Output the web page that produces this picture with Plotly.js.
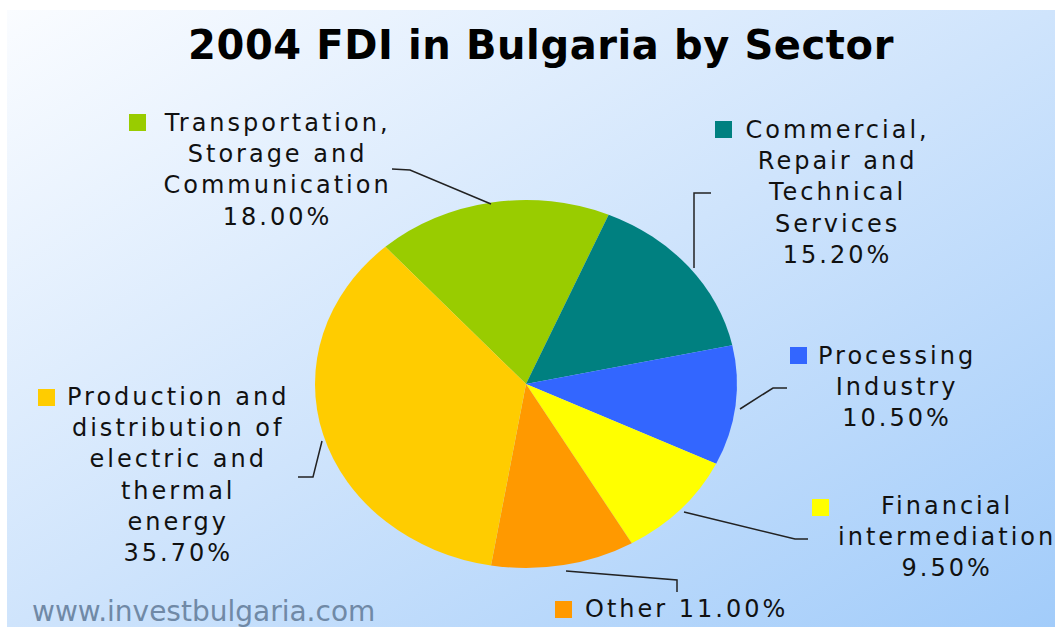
<!DOCTYPE html>
<html>
<head>
<meta charset="utf-8">
<script src="https://cdn.plot.ly/plotly-3.0.1.min.js"></script>
<style>
  html, body { margin: 0; padding: 0; background: #ffffff; }
  #wrap { position: relative; width: 1055px; height: 638px; overflow: hidden; background: #ffffff; }
  #bg { position: absolute; left: 7px; top: 10px; width: 1048px; height: 617px;
        background: linear-gradient(to bottom right, #fafcff 0%, #cfe4fc 50%, #a2ccfa 100%); }
  #chart { position: absolute; left: 0; top: 0; width: 1055px; height: 638px; }
  .gtitle { letter-spacing: 0.6px; }
</style>
</head>
<body>
<div id="wrap"><div id="bg"></div><div id="chart"></div></div>
<script>
// ---- data ----
var sectors = [
  'Transportation, Storage and Communication',
  'Commercial, Repair and Technical Services',
  'Processing Industry',
  'Financial intermediation',
  'Other',
  'Production and distribution of electric and thermal energy'
];
var shares = [18.00, 15.20, 10.50, 9.50, 11.00, 35.70];
var sliceColors = ['#99CC00', '#008080', '#3366FF', '#FFFF00', '#FF9900', '#FFCC00'];
var labelLines = [
  ['Transportation,', 'Storage and', 'Communication'],
  ['Commercial,', 'Repair and', 'Technical', 'Services'],
  ['Processing', 'Industry'],
  ['Financial', 'intermediation'],
  ['Other'],
  ['Production and', 'distribution of', 'electric and', 'thermal', 'energy']
];
var chartTitle = '2004 FDI in Bulgaria by Sector';
var watermark = 'www.investbulgaria.com';

// ---- layout helpers (pixel -> paper) ----
var W = 1055, H = 638;
function px(x) { return x / W; }
function py(y) { return 1 - y / H; }

// label placement (styles/positions only)
var labelPos = [
  {cx: 277, cy: 170},
  {cx: 837, cy: 193},
  {cx: 897, cy: 387},
  {cx: 947, cy: 537},
  {cx: 686, cy: 609, inline: true},
  {cx: 178, cy: 475}
];
var squarePos = [
  [129, 114], [715, 121], [790, 347], [812, 499], [555, 601], [38, 389]
];
var leaders = [
  [[392,169],[410,170],[491,204]],
  [[694,268],[694,193],[711,193]],
  [[740,409],[773,388],[787,388]],
  [[684,512],[795,539],[808,539]],
  [[566,571],[677,580],[677,592]],
  [[322,441],[313,477],[298,477]]
];

var labelFont = {family: 'DejaVu Sans, Verdana, sans-serif', size: 24, color: '#111111'};

var annotations = [];
var shapes = [];
for (var i = 0; i < sectors.length; i++) {
  var pct = shares[i].toFixed(2) + '%';
  var txt = labelPos[i].inline ? (labelLines[i].join(' ') + ' ' + pct)
                                : (labelLines[i].concat([pct]).join('<br>'));
  annotations.push({
    text: txt, xref: 'paper', yref: 'paper',
    x: px(labelPos[i].cx), y: py(labelPos[i].cy),
    xanchor: 'center', yanchor: 'middle', align: 'center',
    showarrow: false, font: labelFont
  });
  var sq = squarePos[i];
  shapes.push({
    type: 'rect', xref: 'paper', yref: 'paper',
    x0: px(sq[0]), x1: px(sq[0] + 17), y0: py(sq[1] + 17), y1: py(sq[1]),
    fillcolor: sliceColors[i], line: {width: 0}
  });
  var pts = leaders[i];
  var d = 'M ' + px(pts[0][0]) + ',' + py(pts[0][1]);
  for (var k = 1; k < pts.length; k++) d += ' L ' + px(pts[k][0]) + ',' + py(pts[k][1]);
  shapes.push({
    type: 'path', xref: 'paper', yref: 'paper', path: d,
    line: {color: '#222222', width: 1.5}
  });
}
annotations.push({
  text: watermark, xref: 'paper', yref: 'paper',
  x: px(30), y: py(611), xanchor: 'left', yanchor: 'middle', align: 'left',
  showarrow: false,
  font: {family: 'DejaVu Sans, Verdana, sans-serif', size: 28, color: '#7089a6'}
});

var data = [{
  type: 'pie',
  labels: sectors,
  values: shares,
  marker: {colors: sliceColors, line: {width: 0}},
  sort: false,
  direction: 'clockwise',
  rotation: -41.8,
  textinfo: 'none',
  hoverinfo: 'label+percent',
  showlegend: false,
  domain: {x: [px(315), px(737)], y: [py(595), py(173)]}
}];

var layout = {
  width: W, height: H,
  margin: {l: 0, r: 0, t: 0, b: 0},
  paper_bgcolor: 'rgba(0,0,0,0)',
  plot_bgcolor: 'rgba(0,0,0,0)',
  showlegend: false,
  title: {
    text: '<b>' + chartTitle + '</b>',
    x: px(541), y: py(45), xref: 'paper', yref: 'paper',
    xanchor: 'center', yanchor: 'middle',
    font: {family: 'DejaVu Sans, Verdana, sans-serif', size: 40, color: '#000000'}
  },
  annotations: annotations,
  shapes: shapes
};

var gd = document.getElementById('chart');
Plotly.newPlot(gd, data, layout, {staticPlot: true, displayModeBar: false}).then(function () {
  // widen sector label letter spacing (centered, so position is unaffected)
  var texts = gd.querySelectorAll('.annotation-text');
  texts.forEach(function (t) {
    if (t.textContent.indexOf('www.') !== 0) t.style.letterSpacing = '3px';
  });
  // flatten the pie into an ellipse, as in the reference
  var g = gd.querySelector('.pielayer');
  if (!g) return;
  var bb = g.getBBox();
  var cy = bb.y + bb.height / 2;
  var s = 184 / 211;
  var prev = g.getAttribute('transform') || '';
  g.setAttribute('transform', 'translate(0,' + (cy * (1 - s)) + ') scale(1,' + s + ') ' + prev);
});
</script>
</body>
</html>
